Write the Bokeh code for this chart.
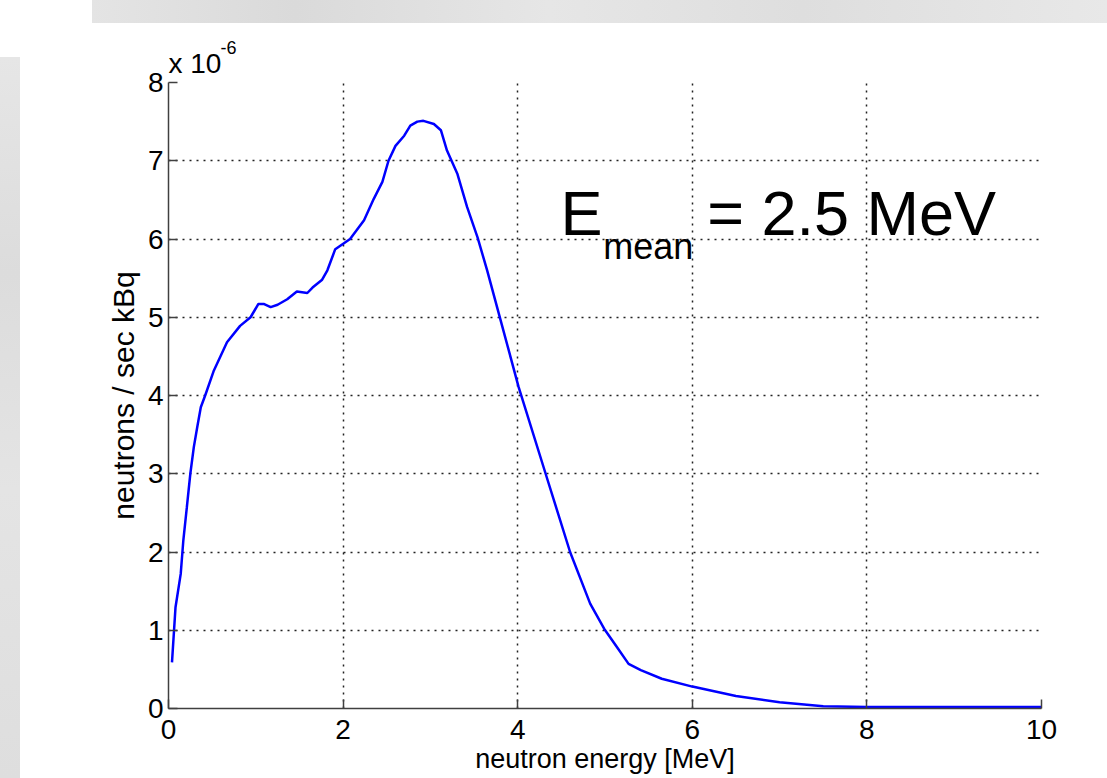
from bokeh.plotting import figure
from bokeh.models import Range1d, FixedTicker, Label, Title
from bokeh.embed import file_html
from bokeh.resources import INLINE

# neutron energy [MeV]
energy = [0.04, 0.08, 0.14, 0.17, 0.21, 0.25, 0.29, 0.33, 0.37, 0.42, 0.52, 0.67,
          0.82, 0.94, 1.03, 1.09, 1.17, 1.25, 1.36, 1.47, 1.59, 1.65, 1.76, 1.82,
          1.91, 2.08, 2.24, 2.35, 2.45, 2.52, 2.60, 2.70, 2.77, 2.85, 2.92, 3.04,
          3.12, 3.19, 3.31, 3.42, 3.54, 3.65, 3.80, 4.01, 4.32, 4.60, 4.83, 4.99,
          5.14, 5.27, 5.41, 5.65, 6.00, 6.50, 7.00, 7.50, 8.00, 9.00, 10.00]
# neutrons / sec kBq, in units of 1e-6
flux_e6 = [0.59, 1.29, 1.72, 2.15, 2.57, 3.00, 3.34, 3.60, 3.85, 4.00, 4.32, 4.68,
           4.89, 5.00, 5.17, 5.17, 5.13, 5.16, 5.23, 5.33, 5.31, 5.38, 5.48, 5.60,
           5.87, 6.00, 6.24, 6.51, 6.73, 7.00, 7.19, 7.32, 7.45, 7.50, 7.51, 7.47,
           7.39, 7.13, 6.83, 6.41, 6.02, 5.60, 4.98, 4.11, 3.00, 2.00, 1.34, 1.02,
           0.78, 0.57, 0.49, 0.38, 0.28, 0.16, 0.08, 0.03, 0.02, 0.02, 0.02]

x_ticks = [0, 2, 4, 6, 8, 10]
y_ticks = [0, 1, 2, 3, 4, 5, 6, 7, 8]

FONT = "Liberation Sans"

BG = ("linear-gradient(90deg, #e4e4e4, #dadada 20%, #e6e6e6 45%, #dedede 70%, #e8e8e8) "
      "92px 0px / 1015px 23px no-repeat, "
      "linear-gradient(180deg, #e6e6e6, #dcdcdc 30%, #e4e4e4 60%, #dedede) "
      "0px 57px / 20px 721px no-repeat, #ffffff")

p = figure(width=1107, height=778, output_backend="svg", toolbar_location=None,
           title=None, x_range=Range1d(0, 10), y_range=Range1d(0, 8),
           min_border_left=168, min_border_right=66, min_border_top=82,
           min_border_bottom=70)
p.styles = {"background": BG}
p.outline_line_color = None
p.background_fill_color = "white"
p.border_fill_color = "white"
p.border_fill_alpha = 0

for ax, ticks in ((p.xaxis, x_ticks), (p.yaxis, y_ticks)):
    ax.ticker = FixedTicker(ticks=ticks)
    ax.axis_line_color = "#404040"
    ax.axis_line_width = 1.5
    ax.major_tick_line_color = "#404040"
    ax.major_tick_line_width = 1.5
    ax.major_tick_in = 9
    ax.major_tick_out = 0
    ax.minor_tick_line_color = None
    ax.major_label_text_font = FONT
    ax.major_label_text_font_size = "28px"
    ax.major_label_text_color = "black"

p.xaxis.major_label_standoff = 11
p.yaxis.major_label_standoff = 5

p.yaxis.axis_label = "neutrons / sec kBq"
p.yaxis.axis_label_text_font_size = "30px"
p.yaxis.axis_label_standoff = 5
p.xaxis.axis_label = "neutron energy [MeV]"
p.xaxis.axis_label_text_font_size = "27px"
p.xaxis.axis_label_standoff = 2
for ax in (p.xaxis, p.yaxis):
    ax.axis_label_text_font = FONT
    ax.axis_label_text_font_style = "normal"
    ax.axis_label_text_color = "black"

# exponent of the y axis: "x 10" with a raised "-6"
p.add_layout(Title(text="x 10", text_font=FONT, text_font_size="28px",
                   text_font_style="normal", text_color="black", align="left",
                   standoff=7), "above")
p.add_layout(Title(text="-6", text_font=FONT, text_font_size="18px",
                   text_font_style="normal", text_color="black", align="left",
                   offset=52, standoff=-22), "above")

p.xgrid.ticker = FixedTicker(ticks=x_ticks)
p.ygrid.ticker = FixedTicker(ticks=y_ticks)
for g in (p.xgrid, p.ygrid):
    g.grid_line_color = "#222222"
    g.grid_line_width = 1.5
    g.grid_line_dash = "2 5"

p.line(energy, flux_e6, line_color="#0000ff", line_width=2.5)

# annotation E_mean = 2.5 MeV
p.add_layout(Label(x=4.49, y=6.33, text="E", text_font=FONT, text_font_size="63px",
                   text_baseline="middle", text_color="black"))
p.add_layout(Label(x=4.98, y=5.91, text="mean", text_font=FONT, text_font_size="36px",
                   text_baseline="middle", text_color="black"))
p.add_layout(Label(x=6.17, y=6.33, text="= 2.5 MeV", text_font=FONT,
                   text_font_size="63px", text_baseline="middle", text_color="black"))

open("out.html", "w").write(file_html(p, INLINE))
